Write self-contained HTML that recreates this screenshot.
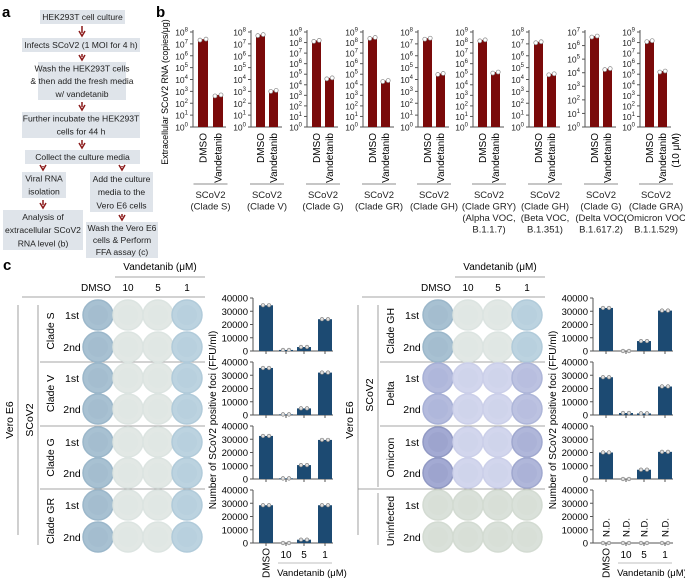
<!DOCTYPE html>
<html><head><meta charset="utf-8">
<style>
body{margin:0;background:#fff;}
svg{display:block;font-family:"Liberation Sans",Arial,sans-serif;}
</style></head>
<body>
<svg id="fig" width="685" height="580" viewBox="0 0 685 580" xmlns="http://www.w3.org/2000/svg">
<text x="2" y="17" font-size="15" font-weight="bold">a</text>
<text x="156" y="17" font-size="15" font-weight="bold">b</text>
<text x="3" y="270" font-size="15" font-weight="bold">c</text>
<g id="flow"></g>
<g id="pb"></g>
<g id="pc"></g>
</svg>
<script>
// ---------- Panel b data ----------
const bGroups = ["(Clade S)","(Clade V)","(Clade G)","(Clade GR)","(Clade GH)","(Clade GRY)","(Clade GH)","(Clade G)","(Clade GRA)"];
const bSub1 = ["","","","","","(Alpha VOC,","(Beta VOC,","(Delta VOC,","(Omicron VOC,"];
const bSub2 = ["","","","","","B.1.1.7)","B.1.351)","B.1.617.2)","B.1.1.529)"];
const bMaxExp = [8,8,9,9,8,9,8,7,9];
const bDMSO = [2.5e7,6e7,1.6e8,3e8,3e7,1.8e8,1.5e7,5e6,1.5e8];
const bVand = [5e2,1.2e3,4.5e4,2.5e4,3.2e4,1.6e5,3e4,2e4,2e5];
const bCats = ["DMSO","Vandetanib"];
// ---------- Panel c data ----------
const cTicks = [0,10000,20000,30000,40000];
const cCats = ["DMSO","10","5","1"];
const cLeftNames = ["Clade S","Clade V","Clade G","Clade GR"];
const cLeftVals = [[34500,800,3000,24000],[35500,500,5000,32000],[32500,500,10500,29500],[28500,0,2500,28500]];
const cRightNames = ["Clade GH","Delta","Omicron","Uninfected"];
const cRightVals = [[32500,0,7500,30500],[28500,1500,1200,21500],[20000,0,7000,20500],[0,0,0,0]];

const NS="http://www.w3.org/2000/svg";
function mk(parent,tag,attrs,txt){const e=document.createElementNS(NS,tag);for(const k in attrs)e.setAttribute(k,attrs[k]);if(txt!==undefined)e.textContent=txt;parent.appendChild(e);return e;}

// ---------- Flowchart ----------
const flow=document.getElementById('flow');
const boxes=[
 {x:40,y:10,w:85,h:14,t:["HEK293T  cell culture"],n:"step-cell-culture"},
 {x:22,y:38,w:118,h:14,t:["Infects SCoV2 (1 MOI for 4 h)"],n:"step-infect"},
 {x:38,y:62,w:88,h:38,t:["Wash the HEK293T  cells","& then add the fresh media","w/ vandetanib"],n:"step-wash-add"},
 {x:22,y:112,w:118,h:26,t:["Further incubate the HEK293T","cells for 44 h"],n:"step-incubate"},
 {x:25,y:150,w:115,h:14,t:["Collect the culture media"],n:"step-collect"},
 {x:22,y:172,w:44,h:26,t:["Viral RNA","isolation"],n:"step-rna-isolation"},
 {x:90,y:172,w:63,h:40,t:["Add the culture","media to the","Vero E6 cells"],n:"step-add-media"},
 {x:3,y:210,w:80,h:40,t:["Analysis of","extracellular SCoV2","RNA level (b)"],n:"step-analysis"},
 {x:86,y:222,w:72,h:36,t:["Wash the Vero E6","cells & Perform","FFA assay (c)"],n:"step-ffa"}];
boxes.forEach(b=>{
 const g=mk(flow,'g',{});
 
 
 mk(g,'rect',{x:b.x,y:b.y,width:b.w,height:b.h,fill:'#dfe4ea'});
 const lh=b.h/b.t.length;
 b.t.forEach((s,i)=>mk(g,'text',{x:b.x+b.w/2,y:b.y+lh*i+lh/2+3.2,'font-size':8.6,'text-anchor':'middle',fill:'#222'},s));
});
const arrows=[[82,26,36],[82,54,60],[82,102,110],[82,140,148],[43,166,170],[122,166,170],[43,200,208],[122,214,220]];
arrows.forEach(a=>{
 const p=mk(flow,'path',{d:`M${a[0]},${a[1]} L${a[0]},${a[2]-3} M${a[0]-3},${a[2]-5} L${a[0]},${a[2]} L${a[0]+3},${a[2]-5}`,stroke:'#8b1a1a',fill:'none','stroke-width':1.5});
 
 
});

// ---------- Panel b ----------
const pb=document.getElementById('pb');
const bAxisX=[193,251,307,363,418,473,529,585,640];
const yTop=32,yBot=127;
const ytitle=mk(pb,'text',{x:0,y:0,'font-size':8.8,'text-anchor':'middle',transform:'translate(168,92) rotate(-90)'},"Extracellular SCoV2 RNA (copies/μg)");


bGroups.forEach((gname,i)=>{
 const x0=bAxisX[i];
 const first=(i===0);
 const bw=first?10:9, o1=5, o2=first?20:18, len=first?33:31;
 const maxE=bMaxExp[i];
 const ys=v=>yBot-(Math.log10(Math.max(v,1))/maxE)*(yBot-yTop);
 const g=mk(pb,'g',{});
 
 
 mk(g,'line',{x1:x0,y1:yTop-2,x2:x0,y2:yBot,stroke:'#555','stroke-width':1});
 mk(g,'line',{x1:x0,y1:yBot,x2:x0+len,y2:yBot,stroke:'#555','stroke-width':1});
 for(let e=0;e<=maxE;e++){
  const y=ys(Math.pow(10,e));
  mk(g,'line',{x1:x0-3,y1:y,x2:x0,y2:y,stroke:'#555'});
  const t=mk(g,'text',{x:x0-5,y:y+3.5,'font-size':8.5,'text-anchor':'end',fill:'#222'});
  
  
  mk(t,'tspan',{},"10");
  mk(t,'tspan',{'font-size':6,dy:-4},String(e));
 }
 const vals=[bDMSO[i],bVand[i]];
 [o1,o2].forEach((o,j)=>{
  const y=ys(vals[j]);
  const r=mk(g,'rect',{x:x0+o,y:y,width:bw,height:yBot-y,fill:'#7a0a0a'});
  
  
  mk(g,'circle',{cx:x0+o+bw*0.2,cy:y+1,r:2,fill:'#fff',stroke:'#888','stroke-width':0.7});
  mk(g,'circle',{cx:x0+o+bw*0.8,cy:y,r:2,fill:'#fff',stroke:'#888','stroke-width':0.7});
  const lab=mk(g,'text',{x:0,y:0,'font-size':10,'text-anchor':'end',transform:`translate(${x0+o+bw/2+3.5},133) rotate(-90)`},bCats[j]);
  
  
 });
 const cx=x0+(o2+bw+o1)/2;
 mk(g,'line',{x1:cx-17,y1:184,x2:cx+17,y2:184,stroke:'#666','stroke-width':0.8});
 const lines=["SCoV2",gname,bSub1[i],bSub2[i]];
 lines.forEach((s,k)=>{ if(s){const t=mk(g,'text',{x:cx,y:198+k*11.5,'font-size':9.5,'text-anchor':'middle',fill:'#222'},s);
  
  }});
});
const um=mk(pb,'text',{x:0,y:0,'font-size':10,'text-anchor':'end',transform:'translate(679,133) rotate(-90)'},"(10 μM)");



// ---------- Panel c ----------
const pc=document.getElementById('pc');
const rowY=[315,347,378,409,442,473,505,537];
const colX=[98,128,158,187];
const sepY=[362,426,489];
function dishColor(side,grp,col){
 if(side===1&&grp===3) return ['#d3dbd2','#dae1da'];
 if(side===1&&(grp===1||grp===2)){
  if(col===0) return grp===2?['#9199c4','#a3aad3']:['#a7b0d6','#b4bbdd'];
  if(col===3) return grp===2?['#a0a8cf','#b0b7da']:['#aeb6d9','#bcc2e1'];
  return ['#cbcfe9','#d2d6ed'];
 }
 if(col===0) return ['#9bb7ca','#a8c1d2'];
 if(col===3) return ['#b1cbda','#bcd3e0'];
 return ['#dce4e1','#e2e8e5'];
}
[0,1].forEach(side=>{
 const dx=side*340;
 const names=side?cRightNames:cLeftNames;
 const vals=side?cRightVals:cLeftVals;
 const g=mk(pc,'g',{});
 
 
 const vt=mk(g,'text',{x:160+dx,y:270,'font-size':10,'text-anchor':'middle'},"Vandetanib  (μM)");
 
 
 mk(g,'line',{x1:115+dx,y1:277,x2:205+dx,y2:277,stroke:'#888','stroke-width':0.8});
 ["DMSO","10","5","1"].forEach((s,k)=>{const t=mk(g,'text',{x:colX[k]+dx+(k===0?-2:0),y:291,'font-size':10,'text-anchor':'middle'},s);
  
  });
 mk(g,'line',{x1:22+dx,y1:297,x2:205+dx,y2:297,stroke:'#888','stroke-width':0.8});
 sepY.forEach(y=>mk(g,'line',{x1:(side&&y===489?18:40)+dx,y1:y,x2:205+dx,y2:y,stroke:'#888','stroke-width':0.8}));
 mk(g,'line',{x1:18+dx,y1:305,x2:18+dx,y2:535,stroke:'#888','stroke-width':0.8});
 mk(g,'line',{x1:38+dx,y1:305,x2:38+dx,y2:side?487:545,stroke:'#888','stroke-width':0.8});
 if(side) mk(g,'line',{x1:38+dx,y1:493,x2:38+dx,y2:545,stroke:'#888','stroke-width':0.8});
 const ve=mk(g,'text',{x:0,y:0,'font-size':10.5,'text-anchor':'middle',transform:`translate(${13+dx},420) rotate(-90)`},"Vero E6");
 
 
 const sc=mk(g,'text',{x:0,y:0,'font-size':10.5,'text-anchor':'middle',transform:`translate(${33+dx},${side?395:420}) rotate(-90)`},"SCoV2");
 
 
 names.forEach((nm,gi)=>{
  const cy=(rowY[gi*2]+rowY[gi*2+1])/2;
  const t=mk(g,'text',{x:0,y:0,'font-size':10.5,'text-anchor':'middle',transform:`translate(${54+dx},${cy}) rotate(-90)`},nm);
  
  
  ["1st","2nd"].forEach((r,ri)=>{
   const y=rowY[gi*2+ri];
   const rt=mk(g,'text',{x:72+dx,y:y+4,'font-size':10.5,'text-anchor':'middle'},r);
   
   
   colX.forEach((x,ci)=>{
    const c=dishColor(side,gi,ci);
    const d=mk(g,'circle',{cx:x+dx,cy:y,r:15,fill:c[1],stroke:c[0],'stroke-width':1.5});
    
    
    mk(g,'circle',{cx:x+dx,cy:y,r:10,fill:c[0],opacity:0.3});
   });
  });
 });
 // bar charts
 const ax=253+dx, axEnd=333+dx;
 const barC=[266,286,304,325];
 const yt=mk(g,'text',{x:0,y:0,'font-size':10,'text-anchor':'middle',transform:`translate(${216+dx},420) rotate(-90)`},"Number of SCoV2 positive foci (FFU/ml)");
 
 
 vals.forEach((arr,gi)=>{
  const top=298+gi*64, bot=top+53;
  const ys=v=>bot-(v/40000)*(bot-top);
  const cg=mk(g,'g',{});
  
  
  mk(cg,'line',{x1:ax,y1:top,x2:ax,y2:bot,stroke:'#555'});
  mk(cg,'line',{x1:ax,y1:bot,x2:axEnd,y2:bot,stroke:'#555'});
  cTicks.forEach(t=>{
   const y=ys(t);
   mk(cg,'line',{x1:ax-3,y1:y,x2:ax,y2:y,stroke:'#555'});
   const tl=mk(cg,'text',{x:ax-5,y:y+3.5,'font-size':9.5,'text-anchor':'end'},String(t));
   
   
  });
  arr.forEach((v,k)=>{
   const cx=barC[k]+dx, y=ys(v);
   mk(cg,'line',{x1:cx,y1:bot,x2:cx,y2:bot+3,stroke:'#555'});
   if(v>0){
    const r=mk(cg,'rect',{x:cx-7,y:y,width:14,height:bot-y,fill:'#1c4a72'});
    
    
   }
   mk(cg,'circle',{cx:cx-3,cy:y,r:1.8,fill:'#ddd',stroke:'#777','stroke-width':0.6});
   mk(cg,'circle',{cx:cx+3,cy:y,r:1.8,fill:'#ddd',stroke:'#777','stroke-width':0.6});
   if(side&&gi===3){
    const nd=mk(cg,'text',{x:0,y:0,'font-size':9.5,'text-anchor':'start',transform:`translate(${cx+3.5},${bot-6}) rotate(-90)`},"N.D.");
    
    
   }
  });
 });
 const xl=mk(g,'text',{x:0,y:0,'font-size':10,'text-anchor':'end',transform:`translate(${barC[0]+dx+3.5},548) rotate(-90)`},"DMSO");
 
 
 [1,2,3].forEach(k=>{const t=mk(g,'text',{x:barC[k]+dx,y:558,'font-size':10,'text-anchor':'middle'},cCats[k]);
  
  });
 mk(g,'line',{x1:278+dx,y1:563,x2:332+dx,y2:563,stroke:'#aaa','stroke-width':0.8});
 const xt=mk(g,'text',{x:312+dx,y:576,'font-size':9.5,'text-anchor':'middle'},"Vandetanib  (μM)");
 
 
});
</script>
</body></html>
